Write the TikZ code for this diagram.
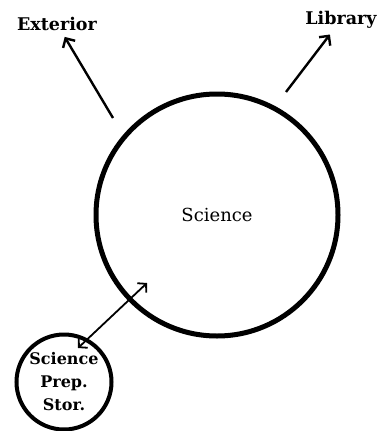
\documentclass[tikz,border=0pt]{standalone}
\usepackage{fontspec}
\setmainfont{DejaVu Serif}
\usetikzlibrary{arrows.meta}
\begin{document}
\begin{tikzpicture}[x=1pt,y=-1pt,
  room/.style={circle,draw,inner sep=0pt,align=center},
  lbl/.style={font=\fontsize{17.5}{20}\selectfont\bfseries},
  flow/.style={line width=2.4pt,-{Straight Barb[length=7pt,width=14pt,line width=2.4pt]}},
  link/.style={line width=1.8pt,{Straight Barb[length=6pt,width=13pt,line width=1.8pt]}-{Straight Barb[length=6pt,width=13pt,line width=1.8pt]}}]
\useasboundingbox (0,0) rectangle (380,431);
% rooms
\node[room,line width=5pt,minimum size=242pt,font=\fontsize{18}{20}\selectfont] (sci) at (217,215) {Science};
\node[room,line width=4pt,minimum size=95pt,font=\fontsize{16}{23}\selectfont\bfseries] (prep) at (64,382) {Science\\Prep.\\Stor.};
% destinations
\node[lbl] (ext) at (57,24) {Exterior};
\node[lbl] (lib) at (341,20) {Library};
% free ends of the connectors
\coordinate (e0) at (113,118);
\coordinate (l0) at (286,92);
\coordinate (s0) at (147,283);
\coordinate (p0) at (78,348);
\draw[flow,shorten >=3pt] (e0) -- (ext);
\draw[flow,shorten >=3pt] (l0) -- (lib);
\draw[link] (p0) -- (s0);
\end{tikzpicture}
\end{document}
